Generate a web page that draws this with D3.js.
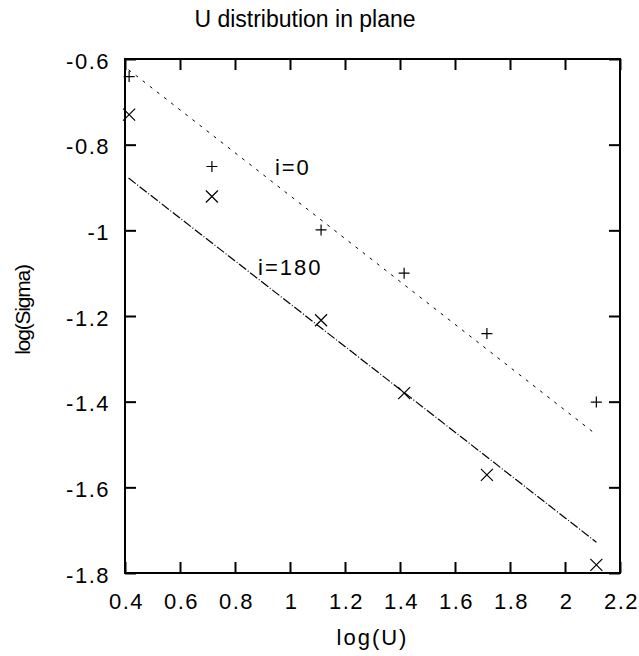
<!DOCTYPE html>
<html>
<head>
<meta charset="utf-8">
<script src="https://cdn.jsdelivr.net/npm/d3@7"></script>
<style>
  body { margin: 0; background: #fff; }
  svg { display: block; font-family: "Liberation Sans", Arial, sans-serif; }
</style>
</head>
<body>
<div id="chart"></div>
<script>
// log(Sigma) vs log(U) - two orientations with fitted lines

const logU = [0.415, 0.716, 1.113, 1.415, 1.716, 2.114];
const sigmaI0 = [-0.641, -0.851, -0.999, -1.100, -1.241, -1.401];
const sigmaI180 = [-0.730, -0.921, -1.210, -1.380, -1.571, -1.781];

// fitted line end points
const fitX = [0.413, 2.114];
const fitI0 = [-0.625, -1.477];
const fitI180 = [-0.878, -1.728];

const xTicks = [0.4, 0.6, 0.8, 1, 1.2, 1.4, 1.6, 1.8, 2, 2.2];
const yTicks = [-0.6, -0.8, -1, -1.2, -1.4, -1.6, -1.8];

const labels = [
    { text: 'i=0', x: 0.945, y: -0.870 },
    { text: 'i=180', x: 0.884, y: -1.104 }
];

function drawChart() {
    const width = 639;
    const height = 656;
    const margin = { top: 59, right: 19, bottom: 83, left: 125 };

    const svg = d3.select('#chart').append('svg')
        .attr('width', width)
        .attr('height', height);

    const x = d3.scaleLinear()
        .domain([0.4, 2.2])
        .range([margin.left, width - margin.right]);

    const y = d3.scaleLinear()
        .domain([-1.8, -0.6])
        .range([height - margin.bottom, margin.top]);

    const fmt = d => String(d);
    const tickLen = 11;

    // axes with inward ticks, mirrored on top and right
    const axisStyle = g => {
        g.select('.domain').remove();
        g.selectAll('line').attr('stroke', '#000').attr('stroke-width', 2);
        g.selectAll('text').attr('fill', '#000').attr('font-size', '22px')
            .attr('letter-spacing', '1.5px');
    };

    svg.append('g')
        .attr('transform', `translate(0,${y(-1.8)})`)
        .call(d3.axisBottom(x).tickValues(xTicks).tickSize(-tickLen).tickPadding(0).tickFormat(fmt))
        .call(axisStyle)
        .call(g => g.selectAll('text').attr('y', 0).attr('dy', '36px').attr('dx', '1px'));

    svg.append('g')
        .attr('transform', `translate(0,${y(-0.6)})`)
        .call(d3.axisTop(x).tickValues(xTicks).tickSize(-tickLen).tickFormat(''))
        .call(axisStyle);

    svg.append('g')
        .attr('transform', `translate(${x(0.4)},0)`)
        .call(d3.axisLeft(y).tickValues(yTicks).tickSize(-tickLen).tickPadding(0).tickFormat(fmt))
        .call(axisStyle)
        .call(g => g.selectAll('text').attr('x', -15).attr('dy', '0.42em'));

    svg.append('g')
        .attr('transform', `translate(${x(2.2)},0)`)
        .call(d3.axisRight(y).tickValues(yTicks).tickSize(-tickLen).tickFormat(''))
        .call(axisStyle);

    // frame
    svg.append('rect')
        .attr('x', x(0.4))
        .attr('y', y(-0.6))
        .attr('width', x(2.2) - x(0.4))
        .attr('height', y(-1.8) - y(-0.6))
        .attr('fill', 'none')
        .attr('stroke', '#000')
        .attr('stroke-width', 2);

    // fitted lines
    const line = d3.line()
        .x(d => x(d[0]))
        .y(d => y(d[1]));

    svg.append('path')
        .attr('d', line(d3.zip(fitX, fitI0)))
        .attr('fill', 'none')
        .attr('stroke', '#000')
        .attr('stroke-width', 1)
        .attr('stroke-dasharray', '3,6');

    svg.append('path')
        .attr('d', line(d3.zip(fitX, fitI180)))
        .attr('fill', 'none')
        .attr('stroke', '#000')
        .attr('stroke-width', 1.2)
        .attr('stroke-dasharray', '9,2,1,2');

    // points
    svg.append('g').selectAll('path')
        .data(d3.zip(logU, sigmaI0))
        .enter()
        .append('path')
        .attr('transform', d => `translate(${x(d[0])},${y(d[1])})`)
        .attr('d', 'M-5.5,0H5.5M0,-5.5V5.5')
        .attr('stroke', '#000')
        .attr('stroke-width', 1.2);

    svg.append('g').selectAll('path')
        .data(d3.zip(logU, sigmaI180))
        .enter()
        .append('path')
        .attr('transform', d => `translate(${x(d[0])},${y(d[1])})`)
        .attr('d', 'M-6,-6L6,6M-6,6L6,-6')
        .attr('stroke', '#000')
        .attr('stroke-width', 1.2);

    // in-plot labels
    svg.append('g').selectAll('text')
        .data(labels)
        .enter()
        .append('text')
        .attr('x', d => x(d.x))
        .attr('y', d => y(d.y))
        .attr('font-size', '22px')
        .attr('letter-spacing', '2px')
        .text(d => d.text);

    // title and axis labels
    svg.append('text')
        .attr('x', 305)
        .attr('y', 27)
        .attr('text-anchor', 'middle')
        .attr('font-size', '23px')
        .text('U distribution in plane');

    svg.append('text')
        .attr('x', (x(0.4) + x(2.2)) / 2)
        .attr('y', 645)
        .attr('text-anchor', 'middle')
        .attr('font-size', '22px')
        .attr('letter-spacing', '2px')
        .text('log(U)');

    svg.append('text')
        .attr('transform', 'translate(30,310) rotate(-90)')
        .attr('text-anchor', 'middle')
        .attr('font-size', '21px')
        .attr('letter-spacing', '-1.2px')
        .text('log(Sigma)');
}

drawChart();
</script>
</body>
</html>
